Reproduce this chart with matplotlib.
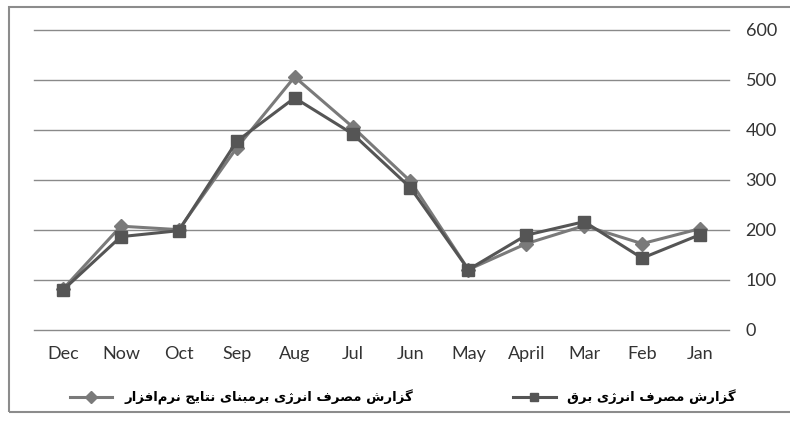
import matplotlib
matplotlib.use("Agg")
import matplotlib.pyplot as plt
from matplotlib.patches import Rectangle

# months in data order (Jan..Dec), axis is shown reversed like the original
months = ["Jan", "Feb", "Mar", "April", "May", "Jun", "Jul", "Aug", "Sep", "Oct", "Now", "Dec"]
electricity = [190, 143, 216, 189, 120, 284, 392, 464, 377, 198, 186, 79]
software = [202, 172, 208, 172, 120, 297, 406, 506, 364, 200, 207, 81]
yticks = [0, 100, 200, 300, 400, 500, 600]

label_elec = "گزارش مصرف انرژی برق"
label_soft = "گزارش مصرف انرژی برمبنای نتایج نرم\u200cافزار"

# tiny arabic/persian shaper: isolated, final, initial, medial
FORMS = {
    "ا": ("\uFE8D", "\uFE8E", None, None),
    "ب": ("\uFE8F", "\uFE90", "\uFE91", "\uFE92"),
    "ت": ("\uFE95", "\uFE96", "\uFE97", "\uFE98"),
    "ج": ("\uFE9D", "\uFE9E", "\uFE9F", "\uFEA0"),
    "ر": ("\uFEAD", "\uFEAE", None, None),
    "ز": ("\uFEAF", "\uFEB0", None, None),
    "ش": ("\uFEB5", "\uFEB6", "\uFEB7", "\uFEB8"),
    "ص": ("\uFEB9", "\uFEBA", "\uFEBB", "\uFEBC"),
    "ف": ("\uFED1", "\uFED2", "\uFED3", "\uFED4"),
    "ق": ("\uFED5", "\uFED6", "\uFED7", "\uFED8"),
    "م": ("\uFEE1", "\uFEE2", "\uFEE3", "\uFEE4"),
    "ن": ("\uFEE5", "\uFEE6", "\uFEE7", "\uFEE8"),
    "ژ": ("\uFB8A", "\uFB8B", None, None),
    "گ": ("\uFB92", "\uFB93", "\uFB94", "\uFB95"),
    "ی": ("\uFBFC", "\uFBFD", "\uFBFE", "\uFBFF"),
}


def shape(s):
    out = []
    for i, c in enumerate(s):
        if c not in FORMS:
            if c != "\u200c":
                out.append(c)
            continue
        prev = s[i - 1] if i > 0 else ""
        nxt = s[i + 1] if i + 1 < len(s) else ""
        join_prev = prev in FORMS and FORMS[prev][2] is not None
        join_next = FORMS[c][2] is not None and nxt in FORMS
        if join_prev and join_next:
            out.append(FORMS[c][3])
        elif join_prev:
            out.append(FORMS[c][1])
        elif join_next:
            out.append(FORMS[c][2])
        else:
            out.append(FORMS[c][0])
    return "".join(out[::-1])


fig = plt.figure(figsize=(7.9, 4.24), dpi=100)
fig.patches.append(Rectangle((9 / 790, 12 / 424), 1.2, 405 / 424, transform=fig.transFigure,
                             fill=False, edgecolor="#8c8c8c", lw=1.5))
ax = fig.add_axes([34 / 790, 94.5 / 424, 695 / 790, 299.5 / 424])

x = range(len(months))
l_soft, = ax.plot(x, software, color="#7a7a7a", lw=2.2, marker="D", markersize=7,
                  markerfacecolor="#7a7a7a", markeredgecolor="#7a7a7a")
l_elec, = ax.plot(x, electricity, color="#555555", lw=2.2, marker="s", markersize=8.5,
                  markerfacecolor="#555555", markeredgecolor="#555555")

ax.set_xlim(11.5, -0.5)
ax.set_ylim(0, 600)
ax.set_xticks(list(x))
ax.set_xticklabels(months)
ax.set_yticks(yticks)
ax.yaxis.tick_right()
ax.grid(axis="y", color="#8a8a8a", lw=1)
for gl in ax.get_ygridlines():
    gl.set_clip_on(False)
ax.set_axisbelow(True)
for sp in ax.spines.values():
    sp.set_visible(False)
ax.tick_params(axis="both", length=0, labelsize=13, labelcolor="#333333")
ax.tick_params(axis="x", pad=12)
ax.tick_params(axis="y", pad=12)
for t in ax.get_xticklabels() + ax.get_yticklabels():
    t.set_fontfamily("Lato")

legprops = {"family": "DejaVu Sans", "weight": "bold", "size": 9.5}
leg1 = fig.legend([l_soft], [shape(label_soft)], loc="center left",
                  bbox_to_anchor=(70 / 790, 1 - 397 / 424), frameon=False,
                  handlelength=3.2, handletextpad=0.9, borderpad=0, borderaxespad=0,
                  prop=legprops)
leg2 = fig.legend([l_elec], [shape(label_elec)], loc="center right",
                  bbox_to_anchor=(736 / 790, 1 - 397 / 424), frameon=False,
                  handlelength=3.2, handletextpad=0.9, borderpad=0, borderaxespad=0,
                  prop=legprops)
for leg in (leg1, leg2):
    for h in leg.legend_handles:
        h.set_markersize(6)

fig.savefig("out.png", dpi=100)
